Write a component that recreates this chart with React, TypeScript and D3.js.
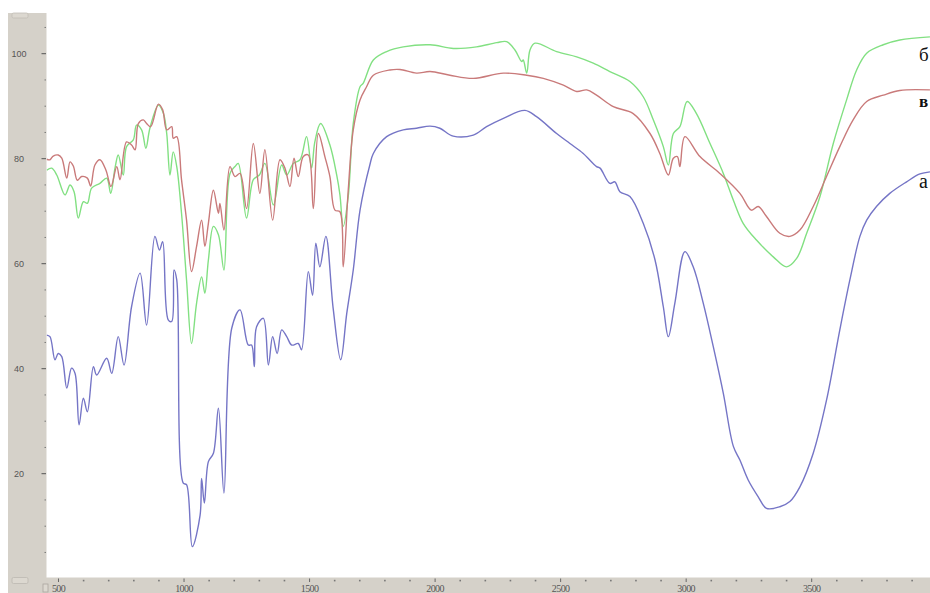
import React from "react";
import * as d3 from "d3";

// wavenumber (cm-1), transmittance (%)
const seriesA: [number, number][] = [
  [453, 46.4], [466, 46.1], [486, 41.7], [499, 42.9], [513, 42.3], [533, 36.3], [552, 40.1], [566, 39.1],
  [582, 29.3], [599, 34.4], [615, 31.8], [639, 40.4], [652, 38.8], [692, 42.0], [712, 39.1], [738, 46.1],
  [761, 40.7], [791, 51.8], [825, 58.2], [851, 48.3], [884, 65.2], [902, 62.6], [915, 64.2], [937, 49.3],
  [951, 49.0], [960, 58.8], [971, 56.9], [997, 18.2], [1010, 17.9], [1033, 6.1], [1064, 12.1], [1070, 19.1],
  [1081, 14.4], [1097, 22.3], [1117, 23.9], [1137, 32.5], [1159, 16.3], [1190, 47.7], [1223, 51.2],
  [1256, 44.5], [1269, 44.5], [1280, 40.4], [1289, 48.0], [1316, 49.6], [1336, 40.7], [1353, 46.1],
  [1371, 42.9], [1389, 47.4], [1409, 46.1], [1429, 44.5], [1455, 44.8], [1468, 43.6], [1495, 58.5],
  [1512, 54.0], [1525, 63.9], [1541, 59.4], [1565, 65.2], [1594, 51.5], [1624, 41.7], [1648, 50.5],
  [1674, 58.8], [1701, 70.2], [1740, 78.8], [1754, 81.0], [1807, 84.2], [1873, 85.5], [1926, 85.8],
  [1980, 86.2], [2019, 85.8], [2072, 84.3], [2152, 84.5], [2205, 86.1], [2272, 87.7], [2358, 89.2],
  [2404, 88.0], [2484, 84.8], [2537, 82.9], [2590, 81.0], [2643, 78.5], [2657, 78.2], [2696, 75.3],
  [2716, 75.6], [2736, 73.7], [2776, 72.8], [2829, 67.7], [2876, 60.7], [2909, 51.8], [2929, 46.1],
  [2955, 52.5], [2995, 62.3], [3028, 59.4], [3068, 52.5], [3108, 44.2], [3148, 35.3], [3188, 25.2],
  [3214, 22.6], [3247, 18.8], [3287, 15.6], [3320, 13.4], [3373, 13.7], [3413, 14.7], [3453, 17.5],
  [3506, 23.9], [3559, 34.0], [3612, 47.4], [3652, 56.9], [3692, 65.2], [3719, 68.3], [3758, 70.9],
  [3811, 73.4], [3878, 75.6], [3931, 77.1], [3971, 77.5],
];

const seriesV: [number, number][] = [
  [453, 79.9], [466, 79.8], [479, 80.5], [499, 80.7], [513, 80.1], [533, 76.3], [546, 79.4], [559, 78.6],
  [575, 75.9], [592, 76.6], [615, 76.3], [628, 74.8], [645, 78.8], [665, 79.8], [689, 77.8], [709, 74.7],
  [732, 78.5], [745, 76.0], [771, 83.2], [791, 82.6], [805, 81.7], [818, 86.7], [838, 87.4], [851, 86.7],
  [867, 86.1], [898, 90.4], [915, 89.3], [931, 85.5], [951, 86.1], [957, 83.9], [971, 84.2], [990, 76.0],
  [1010, 68.3], [1030, 58.5], [1050, 63.3], [1070, 68.3], [1083, 63.3], [1097, 67.7], [1117, 74.0],
  [1137, 69.6], [1143, 71.5], [1159, 66.4], [1183, 78.5], [1203, 76.6], [1223, 77.2], [1249, 70.5],
  [1276, 82.9], [1302, 73.4], [1322, 81.7], [1353, 68.3], [1382, 79.8], [1402, 78.2], [1422, 74.7],
  [1438, 80.1], [1455, 76.6], [1475, 80.4], [1495, 80.7], [1515, 70.5], [1535, 84.8], [1561, 80.4],
  [1581, 76.6], [1601, 70.2], [1621, 69.9], [1634, 59.4], [1654, 74.0], [1674, 85.5], [1701, 91.2],
  [1727, 93.7], [1754, 95.9], [1820, 96.9], [1860, 97.0], [1926, 96.3], [1980, 96.6], [2059, 95.9],
  [2152, 95.3], [2272, 96.3], [2365, 95.9], [2431, 95.3], [2511, 94.0], [2564, 92.8], [2604, 93.1],
  [2643, 92.1], [2710, 89.9], [2789, 88.6], [2856, 84.8], [2895, 81.0], [2929, 76.9], [2949, 80.1],
  [2965, 80.4], [2975, 78.5], [2995, 84.2], [3055, 80.4], [3134, 77.2], [3214, 73.4], [3260, 70.2],
  [3287, 70.9], [3320, 69.0], [3373, 65.8], [3413, 65.2], [3453, 66.4], [3506, 70.9], [3559, 76.6],
  [3612, 82.3], [3665, 87.4], [3719, 90.9], [3785, 92.1], [3851, 93.0], [3971, 93.1],
];

const seriesB: [number, number][] = [
  [453, 77.8], [473, 78.2], [493, 76.9], [526, 73.1], [546, 75.0], [562, 73.7], [579, 68.7], [599, 71.8],
  [615, 71.5], [632, 74.4], [665, 75.3], [692, 76.3], [708, 73.4], [725, 78.2], [738, 80.7], [758, 76.9],
  [771, 82.3], [798, 83.6], [811, 86.4], [831, 85.5], [848, 82.0], [864, 85.8], [898, 90.2], [918, 88.6],
  [931, 84.8], [944, 76.9], [957, 81.3], [971, 78.5], [990, 69.6], [1010, 56.9], [1030, 44.8],
  [1050, 52.5], [1070, 57.5], [1083, 54.4], [1097, 60.7], [1117, 67.1], [1137, 65.5], [1159, 58.8],
  [1183, 77.2], [1203, 78.5], [1216, 79.1], [1249, 68.7], [1276, 76.0], [1300, 76.9], [1322, 79.1],
  [1356, 71.2], [1389, 78.8], [1409, 76.9], [1435, 79.1], [1462, 79.8], [1488, 84.2], [1508, 78.2],
  [1521, 83.2], [1544, 86.7], [1581, 82.6], [1608, 76.9], [1621, 73.1], [1634, 67.1], [1654, 72.8],
  [1674, 86.7], [1701, 93.7], [1714, 94.4], [1754, 98.8], [1807, 100.4], [1873, 101.3], [1980, 101.7],
  [2073, 101.0], [2165, 101.3], [2245, 102.1], [2285, 102.3], [2318, 100.7], [2345, 98.5], [2351, 98.8],
  [2365, 96.3], [2378, 100.7], [2398, 102.0], [2484, 100.4], [2564, 99.4], [2630, 98.2], [2696, 96.6],
  [2776, 94.7], [2829, 91.8], [2869, 87.4], [2909, 82.3], [2929, 78.8], [2949, 84.8], [2975, 86.1],
  [3004, 90.9], [3041, 88.6], [3095, 82.9], [3148, 77.2], [3188, 72.1], [3227, 67.7], [3280, 64.5],
  [3347, 61.3], [3400, 59.4], [3440, 61.0], [3480, 65.8], [3533, 72.8], [3586, 82.9], [3639, 91.2],
  [3679, 96.9], [3719, 100.1], [3785, 101.7], [3851, 102.6], [3971, 103.2],
];

const yTickLabels = [20, 40, 60, 80, 100];
const yMinorTicks = [5, 10, 15, 25, 30, 35, 45, 50, 55, 65, 70, 75, 85, 90, 95, 105];
const xTickLabels = [500, 1000, 1500, 2000, 2500, 3000, 3500];
const xMinorTicks = d3.range(600, 4000, 100).filter((v) => v % 500 !== 0);

const seriesNames = ["а", "б", "в"];
const seriesColors = ["#7575c6", "#82e082", "#c97a7a"];

export default function App() {
  const W = 930;
  const H = 593;
  const plotLeft = 46.5;
  const plotTop = 13;
  const plotBottom = 577.5;
  const x = d3.scaleLinear().domain([500, 3500]).range([58.5, 811.7]);
  const y = d3.scaleLinear().domain([0, 100]).range([578.7, 53.7]);

  const line = d3
    .line<[number, number]>()
    .x((d) => x(d[0]))
    .y((d) => y(d[1]))
    .curve(d3.curveCatmullRom.alpha(0.5));

  const data = [seriesA, seriesB, seriesV];

  const labelPos = [
    { v: seriesA[seriesA.length - 1][1], dy: 16, size: 20, weight: "normal" },
    { v: seriesB[seriesB.length - 1][1], dy: 24, size: 19, weight: "normal" },
    { v: seriesV[seriesV.length - 1][1], dy: 17, size: 17, weight: "bold" },
  ];

  return (
    <svg
      width={W}
      height={H}
      style={{ position: "absolute", left: 0, top: 0, display: "block", background: "#fff" }}
    >
      <defs>
        <clipPath id="plotclip">
          <rect x={plotLeft} y={plotTop} width={W - plotLeft} height={plotBottom - plotTop} />
        </clipPath>
      </defs>
      <rect x={0} y={0} width={W} height={H} fill="#fff" />
      {/* left panel */}
      <rect x={8} y={plotTop} width={plotLeft - 8} height={H - plotTop} fill="#d5d1c9" />
      {/* bottom strip */}
      <rect x={8} y={plotBottom} width={W - 8} height={H - plotBottom} fill="#d5d1c9" />
      <rect x={12} y={13} width={16} height={5} rx={1.5} fill="#dcd8d0" stroke="#c2beb6" strokeWidth={0.8} />
      <rect x={12} y={577.5} width={16} height={6} rx={1.5} fill="#dcd8d0" stroke="#bdb9b1" strokeWidth={0.8} />
      <rect x={43} y={584} width={5} height={8} fill="#dcd8d0" stroke="#aaa69f" strokeWidth={0.8} />

      {/* y ticks */}
      {yTickLabels.map((t) => (
        <g key={"yt" + t}>
          <line x1={41.5} x2={46} y1={y(t)} y2={y(t)} stroke="#555" strokeWidth={1} />
          <text
            x={19}
            y={y(t)}
            dy="0.35em"
            textAnchor="middle"
            fontFamily="Liberation Sans, Arial, sans-serif"
            fontSize={9}
            fill="#555"
          >
            {t}
          </text>
        </g>
      ))}
      {yMinorTicks.map((t) => (
        <line key={"ym" + t} x1={44.5} x2={46} y1={y(t)} y2={y(t)} stroke="#777" strokeWidth={1} />
      ))}

      {/* x ticks */}
      {xTickLabels.map((t) => (
        <g key={"xt" + t}>
          <line x1={x(t)} x2={x(t)} y1={578.5} y2={582} stroke="#666" strokeWidth={1} />
          <text
            x={x(t)}
            y={588}
            dy="0.35em"
            textAnchor="middle"
            fontFamily="Liberation Serif, Times New Roman, serif"
            fontSize={10}
            letterSpacing={-0.6}
            fill="#555"
          >
            {t}
          </text>
        </g>
      ))}
      {xMinorTicks.map((t) => (
        <rect key={"xm" + t} x={x(t) - 0.8} y={579.8} width={1.6} height={1.6} fill="#777" />
      ))}

      {/* curves */}
      <g clipPath="url(#plotclip)">
        {data.map((s, i) => (
          <path
            key={"s" + i}
            d={line(s) || ""}
            fill="none"
            stroke={seriesColors[i]}
            strokeWidth={1.4}
            strokeLinejoin="round"
          />
        ))}
      </g>

      {/* labels */}
      {seriesNames.map((n, i) => (
        <text
          key={"l" + i}
          x={919}
          y={y(labelPos[i].v) + labelPos[i].dy}
          fontFamily="Liberation Serif, Times New Roman, serif"
          fontSize={labelPos[i].size}
          fontWeight={labelPos[i].weight}
          fill="#111"
        >
          {n}
        </text>
      ))}
    </svg>
  );
}
